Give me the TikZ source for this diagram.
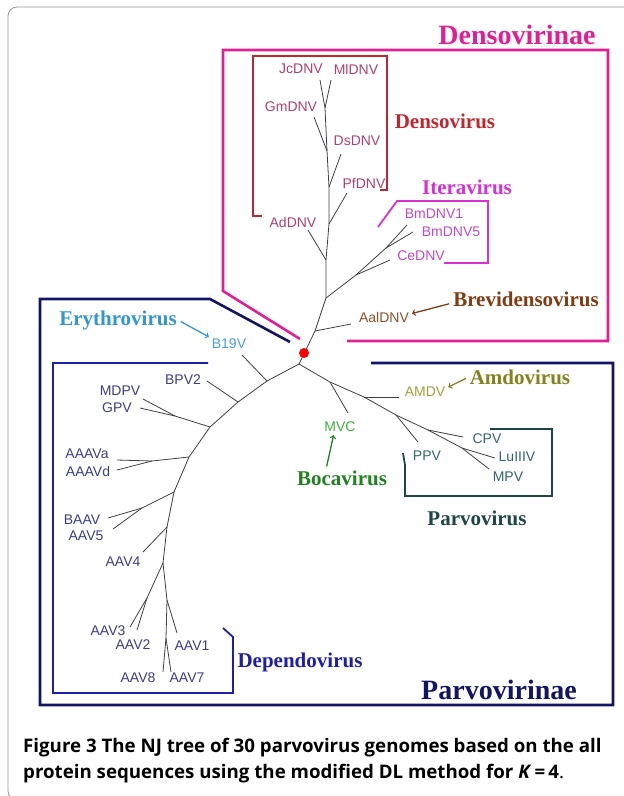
\documentclass[tikz,border=0pt]{standalone}
\usepackage{fontspec}
\setmainfont{Liberation Serif}
\newfontfamily\leaffont{Liberation Sans}
\newfontfamily\captionfont{Open Sans}
\usepackage{tikz}
\usetikzlibrary{arrows}
\definecolor{DensoPink}{RGB}{226,30,150}
\definecolor{DensoRed}{RGB}{192,38,45}
\definecolor{DensoLeaf}{RGB}{176,64,110}
\definecolor{IteraMagenta}{RGB}{214,48,214}
\definecolor{IteraLeaf}{RGB}{196,72,196}
\definecolor{BreviBrown}{RGB}{130,60,20}
\definecolor{BreviLeaf}{RGB}{140,80,40}
\definecolor{ErythroBlue}{RGB}{50,150,210}
\definecolor{ErythroLeaf}{RGB}{70,160,210}
\definecolor{ParvoNavy}{RGB}{20,20,100}
\definecolor{DependoBlue}{RGB}{30,30,170}
\definecolor{DependoLeaf}{RGB}{60,60,140}
\definecolor{AmdoOlive}{RGB}{130,130,30}
\definecolor{AmdoLeaf}{RGB}{160,160,60}
\definecolor{BocaGreen}{RGB}{30,130,30}
\definecolor{BocaLeaf}{RGB}{60,180,60}
\definecolor{ParvoTeal}{RGB}{30,70,70}
\definecolor{ParvoLeaf}{RGB}{50,100,110}
\definecolor{FrameGray}{RGB}{150,150,150}
\tikzset{
  every node/.style={
    inner sep=1pt
  },
  leaf/.style={
    font=\leaffont\fontsize{14}{16}\selectfont
  },
  genus/.style={
    font=\bfseries\fontsize{21}{23}\selectfont
  },
  subfamily/.style={
    font=\bfseries\fontsize{28}{30}\selectfont
  },
  caption line/.style={
    anchor=base west,
    font=\captionfont\bfseries\fontsize{18.7}{22}\selectfont
  },
  branch/.style={
    draw=black!75,
    line width=0.8pt
  },
  subfamily box/.style={
    line width=2.6pt
  },
  genus box/.style={
    line width=1.8pt
  },
  pointer/.style={
    ->,
    line width=1.3pt,
    shorten >=2pt,
    shorten <=3pt
  }
}

\begin{document}
\begin{tikzpicture}[x=1pt,y=-1pt]

\useasboundingbox (0,0) rectangle (624,796);
\clip (0,0) rectangle (624,796);
\draw [FrameGray, line width=0.8pt, rounded corners=9pt]
  (640,7) -- (8,7) -- (8,800) -- (640,800);

% junctions and tips
\coordinate (root) at (299,364);
\coordinate (d0) at (315,331);
\coordinate (d1) at (326,298);
\coordinate (d2) at (326,260);
\coordinate (d3) at (329,224);
\coordinate (d4) at (329,187);
\coordinate (d5) at (327,151);
\coordinate (d6) at (325,108);
\coordinate (i1) at (356,275);
\coordinate (i2) at (386,248);
\coordinate (p1) at (267,381);
\coordinate (p2) at (238,402);
\coordinate (p3) at (210,427);
\coordinate (p4) at (189,457);
\coordinate (p5) at (174,492);
\coordinate (p6) at (167,527);
\coordinate (p7) at (163,563);
\coordinate (q3) at (175,416);
\coordinate (q4) at (152,461);
\coordinate (q5) at (142,508);
\coordinate (q7) at (147,598);
\coordinate (q8) at (167,600);
\coordinate (q9) at (166,638);
\coordinate (r1) at (330,382);
\coordinate (r2) at (364,397);
\coordinate (r3) at (396,415);
\coordinate (r4) at (428,430);
\coordinate (r5) at (462,448);

\coordinate (jc tip) at (320,80);
\coordinate (ml tip) at (331,80);
\coordinate (gm tip) at (314,117);
\coordinate (ds tip) at (341,154);
\coordinate (pf tip) at (347,193);
\coordinate (ad tip) at (308,230);
\coordinate (bm1 tip) at (407,225);
\coordinate (bm5 tip) at (413,232);
\coordinate (ce tip) at (390,260);
\coordinate (aal tip) at (351,324);
\coordinate (b19 tip) at (242,355);
\coordinate (bpv tip) at (207,381);
\coordinate (mdpv tip) at (143,399);
\coordinate (gpv tip) at (140,408);
\coordinate (aaava tip) at (117,460);
\coordinate (aaavd tip) at (117,470);
\coordinate (baav tip) at (108,518);
\coordinate (aav5 tip) at (113,529);
\coordinate (aav4 tip) at (143,552);
\coordinate (aav3 tip) at (130,627);
\coordinate (aav2 tip) at (137,630);
\coordinate (aav1 tip) at (177,633);
\coordinate (aav8 tip) at (163,672);
\coordinate (aav7 tip) at (171,672);
\coordinate (mvc tip) at (348,413);
\coordinate (amdv tip) at (399,397);
\coordinate (ppv tip) at (418,442);
\coordinate (cpv tip) at (463,437);
\coordinate (lu tip) at (495,458);
\coordinate (mpv tip) at (489,469);

% branches
\draw [branch] (root) -- (d0) -- (d1) -- (d2) -- (d3) -- (d4) -- (d5) -- (d6);
\draw [branch] (d6) -- (jc tip);
\draw [branch] (d6) -- (ml tip);
\draw [branch] (d5) -- (gm tip);
\draw [branch] (d4) -- (ds tip);
\draw [branch] (d3) -- (pf tip);
\draw [branch] (d2) -- (ad tip);
\draw [branch] (d1) -- (i1) -- (i2) -- (bm1 tip);
\draw [branch] (i2) -- (bm5 tip);
\draw [branch] (i1) -- (ce tip);
\draw [branch] (d0) -- (aal tip);
\draw [branch] (root) -- (p1) -- (p2) -- (p3) -- (p4) -- (p5) -- (p6) -- (p7);
\draw [branch] (p1) -- (b19 tip);
\draw [branch] (p2) -- (bpv tip);
\draw [branch] (p3) -- (q3) -- (mdpv tip);
\draw [branch] (q3) -- (gpv tip);
\draw [branch] (p4) -- (q4) -- (aaava tip);
\draw [branch] (q4) -- (aaavd tip);
\draw [branch] (p5) -- (q5) -- (baav tip);
\draw [branch] (q5) -- (aav5 tip);
\draw [branch] (p6) -- (aav4 tip);
\draw [branch] (p7) -- (q7) -- (aav3 tip);
\draw [branch] (q7) -- (aav2 tip);
\draw [branch] (p7) -- (q8) -- (aav1 tip);
\draw [branch] (q8) -- (q9) -- (aav8 tip);
\draw [branch] (q9) -- (aav7 tip);
\draw [branch] (root) -- (r1) -- (r2) -- (r3) -- (r4) -- (r5) -- (lu tip);
\draw [branch] (r5) -- (mpv tip);
\draw [branch] (r1) -- (mvc tip);
\draw [branch] (r2) -- (amdv tip);
\draw [branch] (r3) -- (ppv tip);
\draw [branch] (r4) -- (cpv tip);

\node [circle, fill=red, minimum size=10pt, inner sep=0pt] (rootdot) at (304,353) {};

% group outlines
\draw [DensoPink, subfamily box]
  (300,339) -- (223,291) -- (223,50) -- (608,50) -- (608,341) -- (347,341);
\draw [ParvoNavy, subfamily box]
  (290,342) -- (210,299) -- (40,299) -- (40,705) -- (613,705) -- (613,363) -- (371,363);
\draw [DensoRed, genus box]
  (262,216) -- (253,216) -- (253,56) -- (387,56) -- (387,190) -- (380,190);
\draw [IteraMagenta, genus box]
  (378,227) -- (397,201) -- (488,201) -- (488,263) -- (444,263);
\draw [DependoBlue, genus box]
  (208,363) -- (53,363) -- (53,693) -- (233,693) -- (233,637) -- (223,628);
\draw [ParvoTeal, genus box]
  (490,429) -- (552,429) -- (552,496) -- (405,496) -- (405,465) -- (403,453);

% leaves
\node [leaf, DensoLeaf] (jcdnv) at (301,69) {JcDNV};
\node [leaf, DensoLeaf] (mldnv) at (356,69) {MlDNV};
\node [leaf, DensoLeaf] (gmdnv) at (291,107) {GmDNV};
\node [leaf, DensoLeaf] (dsdnv) at (357,141) {DsDNV};
\node [leaf, DensoLeaf] (pfdnv) at (364,183) {PfDNV};
\node [leaf, DensoLeaf] (addnv) at (293,222) {AdDNV};
\node [leaf, IteraLeaf] (bmdnv1) at (434,214) {BmDNV1};
\node [leaf, IteraLeaf] (bmdnv5) at (451,232) {BmDNV5};
\node [leaf, IteraLeaf] (cednv) at (421,256) {CeDNV};
\node [leaf, BreviLeaf] (aaldnv) at (384,317) {AalDNV};
\node [leaf, ErythroLeaf] (b19v) at (229,344) {B19V};
\node [leaf, DependoLeaf] (bpv2) at (183,380) {BPV2};
\node [leaf, DependoLeaf] (mdpv) at (120,391) {MDPV};
\node [leaf, DependoLeaf] (gpv) at (117,408) {GPV};
\node [leaf, DependoLeaf] (aaava) at (87,454) {AAAVa};
\node [leaf, DependoLeaf] (aaavd) at (88,471) {AAAVd};
\node [leaf, DependoLeaf] (baav) at (82,520) {BAAV};
\node [leaf, DependoLeaf] (aav5) at (86,536) {AAV5};
\node [leaf, DependoLeaf] (aav4) at (123,562) {AAV4};
\node [leaf, DependoLeaf] (aav3) at (108,631) {AAV3};
\node [leaf, DependoLeaf] (aav2) at (133,645) {AAV2};
\node [leaf, DependoLeaf] (aav1) at (192,646) {AAV1};
\node [leaf, DependoLeaf] (aav8) at (138,678) {AAV8};
\node [leaf, DependoLeaf] (aav7) at (187,678) {AAV7};
\node [leaf, AmdoLeaf] (amdv) at (425,392) {AMDV};
\node [leaf, BocaLeaf] (mvc) at (340,427) {MVC};
\node [leaf, ParvoLeaf] (ppv) at (427,456) {PPV};
\node [leaf, ParvoLeaf] (cpv) at (487,439) {CPV};
\node [leaf, ParvoLeaf] (luiiiv) at (517,457) {LuIIIV};
\node [leaf, ParvoLeaf] (mpv) at (508,477) {MPV};

% group names
\node [subfamily, DensoPink] (densovirinae) at (517,35) {Densovirinae};
\node [subfamily, ParvoNavy] (parvovirinae) at (499,690) {Parvovirinae};
\node [genus, DensoRed] (densovirus) at (445,121) {Densovirus};
\node [genus, IteraMagenta] (iteravirus) at (467,187) {Iteravirus};
\node [genus, BreviBrown] (brevidensovirus) at (526,299) {Brevidensovirus};
\node [genus, ErythroBlue] (erythrovirus) at (118,320) {Erythrovirus};
\node [genus, AmdoOlive] (amdovirus) at (520,377) {Amdovirus};
\node [genus, BocaGreen] (bocavirus) at (342,478) {Bocavirus};
\node [genus, ParvoTeal] (parvovirus) at (477,518) {Parvovirus};
\node [genus, DependoBlue] (dependovirus) at (300,662) {Dependovirus};

\draw [pointer, ErythroBlue] (erythrovirus.east) -- (b19v.north west);
\draw [pointer, BreviBrown] ([yshift=-4pt]brevidensovirus.west) -- ([yshift=3pt]aaldnv.east);
\draw [pointer, AmdoOlive] (amdovirus.west) -- ([yshift=4pt]amdv.east);
\draw [pointer, BocaGreen] ([xshift=-16pt]bocavirus.north) -- ([xshift=-6pt]mvc.south);

% caption
\node [caption line] (caption top) at (22,752)
  {Figure 3 The NJ tree of 30 parvovirus genomes based on the all};
\node [caption line] (caption bottom) at (22,778)
  {protein sequences using the modified DL method for \textit{K}\,=\,4\textmd{.}};

\end{tikzpicture}
\end{document}
